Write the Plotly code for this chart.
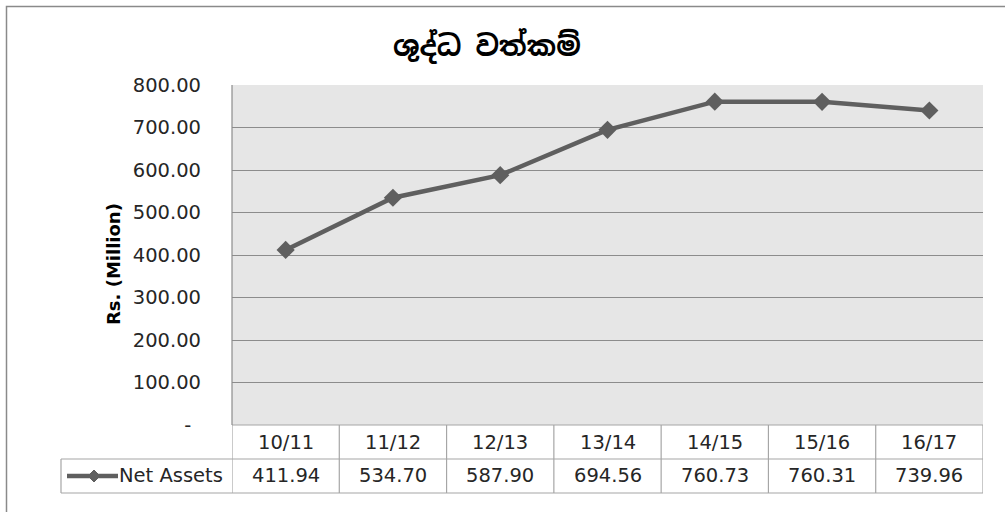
import plotly.graph_objects as go

categories = ["10/11", "11/12", "12/13", "13/14", "14/15", "15/16", "16/17"]
net_assets = [411.94, 534.70, 587.90, 694.56, 760.73, 760.31, 739.96]
series_name = "Net Assets"
title_text = "ශුද්ධ වත්කම්"
y_title = "Rs. (Million)"
y_ticks = [0, 100, 200, 300, 400, 500, 600, 700, 800]

W, H = 1005, 512
L, R, T, B = 232, 22, 85, 87
PW, PH = W - L - R, H - T - B

def px_x(px):
    return (px - L) / PW

def px_y(py):
    return (H - B - py) / PH

FONT = "DejaVu Sans"
LINE_C = "#5f5f5f"
GRID_C = "#8c8c8c"
TAB_C = "#a6a6a6"
TXT_C = "#262626"
FS = 19.5

fig = go.Figure()
fig.add_trace(go.Scatter(
    x=categories, y=net_assets, mode="lines+markers", name=series_name,
    line=dict(color=LINE_C, width=4.5),
    marker=dict(symbol="diamond", size=14, color=LINE_C),
    showlegend=False, cliponaxis=False,
))

ticktext = ["-\u2002" if v == 0 else f"{v:.2f}" for v in y_ticks]

shapes = []
n = len(categories)
row1_y = px_y(459)
row2_y = px_y(493)
shapes.append(dict(type="line", xref="x", yref="paper", x0=-0.5, x1=n - 0.5, y0=0, y1=0,
                   line=dict(color=TAB_C, width=1.2)))
shapes.append(dict(type="line", xref="paper", yref="paper", x0=px_x(61), x1=1, y0=row1_y, y1=row1_y,
                   line=dict(color=TAB_C, width=1.2)))
shapes.append(dict(type="line", xref="paper", yref="paper", x0=px_x(61), x1=1, y0=row2_y, y1=row2_y,
                   line=dict(color=TAB_C, width=1.2)))
for i in range(n + 1):
    shapes.append(dict(type="line", xref="x", yref="paper", x0=i - 0.5, x1=i - 0.5, y0=0, y1=row2_y,
                       line=dict(color=TAB_C, width=1.2)))
shapes.append(dict(type="line", xref="paper", yref="paper", x0=px_x(61), x1=px_x(61), y0=row1_y, y1=row2_y,
                   line=dict(color=TAB_C, width=1.2)))
shapes.append(dict(type="line", xref="paper", yref="paper", x0=0, x1=0, y0=0, y1=1,
                   line=dict(color=GRID_C, width=1.2)))
ky = px_y(476)
shapes.append(dict(type="line", xref="paper", yref="paper", x0=px_x(67), x1=px_x(118), y0=ky, y1=ky,
                   line=dict(color=LINE_C, width=4.5)))
cx = 94
d = 6
path = (f"M {px_x(cx - d)} {px_y(476)} L {px_x(cx)} {px_y(476 - d)} "
        f"L {px_x(cx + d)} {px_y(476)} L {px_x(cx)} {px_y(476 + d)} Z")
shapes.append(dict(type="path", xref="paper", yref="paper", path=path,
                   fillcolor=LINE_C, line=dict(color=LINE_C, width=1)))
shapes.append(dict(type="rect", xref="paper", yref="paper", x0=px_x(6.5), x1=px_x(1012),
                   y0=px_y(520), y1=px_y(6.5), line=dict(color="#8a8a8a", width=1.5)))

def ann(**kw):
    base = dict(showarrow=False, xanchor="center", yanchor="middle")
    base.update(kw)
    return base

annotations = []
for c, v in zip(categories, net_assets):
    annotations.append(ann(x=c, y=px_y(442), xref="x", yref="paper", text=c,
                           font=dict(family=FONT, size=FS, color=TXT_C)))
    annotations.append(ann(x=c, y=px_y(476), xref="x", yref="paper", text=f"{v:.2f}",
                           font=dict(family=FONT, size=FS, color=TXT_C)))
annotations.append(ann(x=px_x(225), y=px_y(476), xref="paper", yref="paper", text=series_name,
                       xanchor="right", font=dict(family=FONT, size=FS, color=TXT_C)))
annotations.append(ann(x=px_x(113), y=px_y(264), xref="paper", yref="paper", text=f"<b>{y_title}</b>",
                       textangle=-90, font=dict(family=FONT, size=18, color="#000000")))
annotations.append(ann(x=px_x(487), y=px_y(46), xref="paper", yref="paper", text=f"<b>{title_text}</b>",
                       font=dict(family="Noto Sans Sinhala, Iskoola Pota, sans-serif", size=28, color="#000000")))

fig.update_layout(
    width=W, height=H,
    margin=dict(l=L, r=R, t=T, b=B, pad=0),
    paper_bgcolor="white", plot_bgcolor="#e6e6e6",
    shapes=shapes, annotations=annotations,
    xaxis=dict(type="category", range=[-0.5, n - 0.5], showticklabels=False, showgrid=False,
               zeroline=False, showline=False, ticks=""),
    yaxis=dict(range=[0, 800], tickvals=y_ticks, ticktext=ticktext, showgrid=True, gridcolor=GRID_C,
               gridwidth=1.2, zeroline=False, showline=False, ticks="", ticklabelstandoff=30,
               tickfont=dict(family=FONT, size=FS, color=TXT_C)),
    font=dict(family=FONT),
)

fig.write_html("out.html", config={"displayModeBar": False},
               post_script="document.body.style.margin='0';")
